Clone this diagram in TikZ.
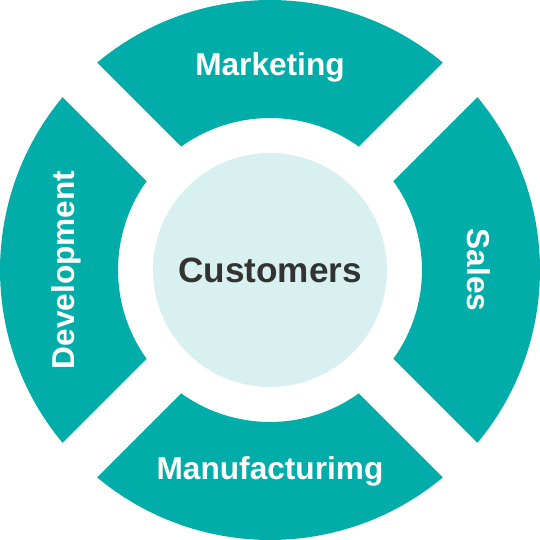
\documentclass[tikz,border=0pt]{standalone}
\usepackage{fontspec}
\setmainfont{Liberation Sans}
\usepackage{tikz}
\usetikzlibrary{calc}

\definecolor{ringteal}{HTML}{00ADA8}
\definecolor{paleteal}{HTML}{D8F1F0}
\definecolor{darktext}{HTML}{333333}

\tikzset{
    segment/.style={fill=ringteal, draw=none},
    seglabel/.style={text=white, font=\bfseries\fontsize{18}{22}\selectfont, anchor=base},
}

\begin{document}
\begin{tikzpicture}
    \useasboundingbox (-5.4,-5.4) rectangle (5.4,5.4);
    % four ring segments, gaps along the diagonals
    \foreach \a in {0,90,180,270}{
        \fill[segment] (\a+50.21:5.4) arc[start angle=\a+50.21, end angle=\a+129.79, radius=5.4]
            -- (\a+125.72:3.04) arc[start angle=\a+125.72, end angle=\a+54.28, radius=3.04] -- cycle;
    }
    \fill[paleteal] (0,0) circle (2.34);

    \node[text=darktext, font=\bfseries\fontsize{20}{24}\selectfont, anchor=base] (customers) at (0,-0.26) {Customers};
    \node[seglabel] (marketing) at (0,3.88) {Marketing};
    \node[seglabel] (manufacturing) at (0,-4.18) {Manufacturimg};
    \node[seglabel, rotate=90] (development) at (-3.9,0) {Development};
    \node[seglabel, rotate=-90] (sales) at (3.94,0) {Sales};
\end{tikzpicture}
\end{document}
